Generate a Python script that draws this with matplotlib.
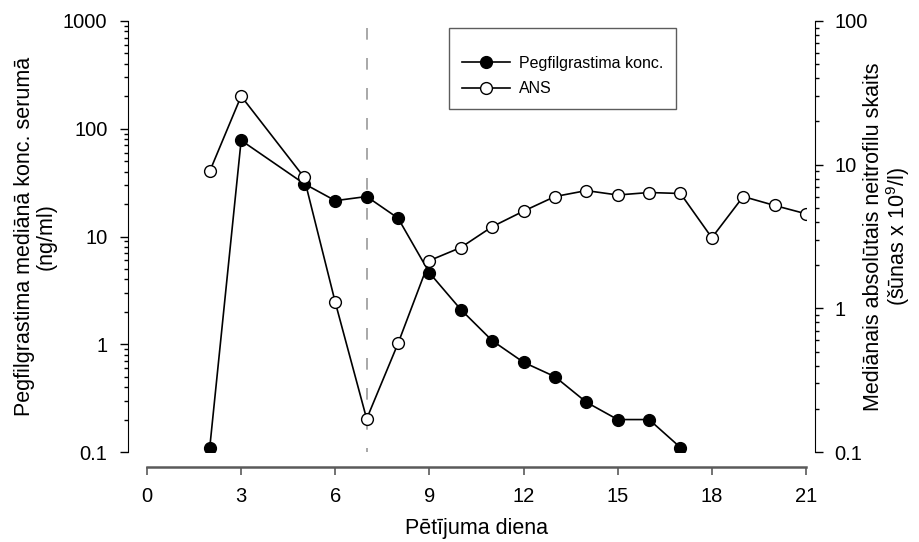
import numpy as np
import matplotlib
matplotlib.use('Agg')
import matplotlib.pyplot as plt
from matplotlib.lines import Line2D
from matplotlib.ticker import FixedLocator, LogLocator, NullFormatter

plt.rcParams['font.family'] = ['Liberation Sans', 'DejaVu Sans']
plt.rcParams['mathtext.fontset'] = 'custom'
plt.rcParams['mathtext.rm'] = 'Liberation Sans'
plt.rcParams['mathtext.it'] = 'Liberation Sans:italic'

# Pegfilgrastim median serum concentration (ng/ml), left axis
peg_days = [2, 3, 5, 6, 7, 8, 9, 10, 11, 12, 13, 14, 15, 16, 17]
peg_conc = [0.11, 78, 31, 21.5, 23.5, 14.8, 4.6, 2.1, 1.08, 0.68, 0.5, 0.29, 0.2, 0.2, 0.11]

# Median absolute neutrophil count (x 10^9/l), right axis
ans_days = [2, 3, 5, 6, 7, 8, 9, 10, 11, 12, 13, 14, 15, 16, 17, 18, 19, 20, 21]
ans_vals = [9.0, 30, 8.2, 1.1, 0.17, 0.57, 2.15, 2.65, 3.7, 4.75, 6.0, 6.6, 6.15, 6.4, 6.3,
            3.1, 6.0, 5.2, 4.55]

dose_day = 7

left_ticks = [0.1, 1, 10, 100, 1000]
left_labels = ['0.1', '1', '10', '100', '1000']
right_ticks = [0.1, 1, 10, 100]
right_labels = ['0.1', '1', '10', '100']
x_ticks = [0, 3, 6, 9, 12, 15, 18, 21]

fig = plt.figure(figsize=(9.19, 5.42), dpi=100)
ax = fig.add_axes([147 / 919, 90 / 542, 659 / 919, 431 / 542])
ax2 = ax.twinx()

ax.set_xlim(0, 21)
ax.set_yscale('log')
ax.set_ylim(0.1, 1000)
ax2.set_yscale('log')
ax2.set_ylim(0.1, 100)

ax.axvline(dose_day, ymin=0.984, ymax=0, color='#999999', lw=1.2, dashes=(7, 11))

ax.plot(peg_days, peg_conc, color='black', lw=1.2, marker='o', ms=8.5,
        mfc='black', mec='black', zorder=3)
ax2.plot(ans_days, ans_vals, color='black', lw=1.2, marker='o', ms=8.5,
         mfc='white', mec='black', mew=1.0, zorder=3)

# spines
for s in ['top', 'right']:
    ax.spines[s].set_visible(False)
for s in ['top', 'left', 'bottom']:
    ax2.spines[s].set_visible(False)
ax.spines['left'].set_position(('outward', 13.5))
ax.spines['bottom'].set_position(('outward', 11))
ax.spines['bottom'].set_color('#5a5a5a')
ax.spines['bottom'].set_linewidth(1.8)
ax2.spines['right'].set_position(('outward', 6.5))

# ticks
ax.set_xticks(x_ticks)
ax.tick_params(axis='x', direction='out', length=6, width=1.2, color='#5a5a5a',
               labelsize=14.5, pad=8)
ax.yaxis.set_major_locator(FixedLocator(left_ticks))
ax.set_yticklabels(left_labels)
ax.yaxis.set_minor_locator(LogLocator(base=10, subs=np.arange(2, 10)))
ax.yaxis.set_minor_formatter(NullFormatter())
ax.tick_params(axis='y', which='major', direction='out', length=6, width=1, labelsize=14.5, pad=9)
ax.tick_params(axis='y', which='minor', direction='out', length=3, width=1)

ax2.yaxis.set_major_locator(FixedLocator(right_ticks))
ax2.set_yticklabels(right_labels)
ax2.yaxis.set_minor_locator(LogLocator(base=10, subs=np.arange(2, 10)))
ax2.yaxis.set_minor_formatter(NullFormatter())
ax2.tick_params(axis='y', which='major', direction='out', length=6, width=1, labelsize=14.5, pad=8)
ax2.tick_params(axis='y', which='minor', direction='out', length=3, width=1)

# labels
ax.text(-0.170, 0.5, 'Pegfilgrastima mediānā konc. serumā\n(ng/ml)', transform=ax.transAxes,
        rotation=90, ha='center', va='center', multialignment='center', fontsize=15.5,
        linespacing=1.05)
ax.text(1.124, 0.5, 'Mediānais absolūtais neitrofilu skaits\n(šūnas x 10$^{9}$/l)',
        transform=ax.transAxes, rotation=90, ha='center', va='center',
        multialignment='center', fontsize=15.5, linespacing=1.0)
ax.text(0.5, -0.178, 'Pētījuma diena', transform=ax.transAxes, ha='center', va='center',
        fontsize=15.5)

handles = [Line2D([], [], color='black', lw=1.2, marker='o', ms=8.5, mfc='black', mec='black'),
           Line2D([], [], color='black', lw=1.2, marker='o', ms=8.5, mfc='white', mec='black')]
leg = ax2.legend(handles, ['Pegfilgrastima konc.', 'ANS'], loc='upper left',
                 bbox_to_anchor=(0.458, 0.984), fontsize=11.5, frameon=True, fancybox=False,
                 edgecolor='#333333', handlelength=3.0, handletextpad=0.6,
                 borderpad=0.8, labelspacing=0.65, borderaxespad=0,
                 title=' ', title_fontsize=4)
leg.get_frame().set_linewidth(1.0)

fig.savefig('out.png', dpi=100)
